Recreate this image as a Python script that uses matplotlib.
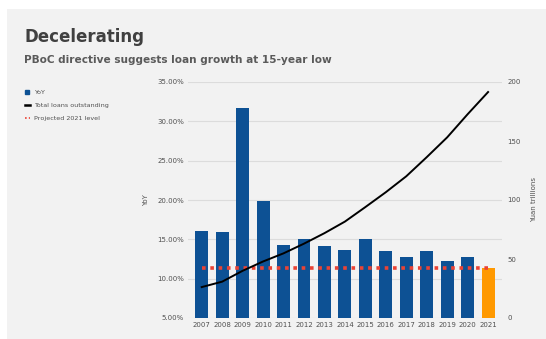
import matplotlib
matplotlib.use("Agg")
import matplotlib.pyplot as plt
from matplotlib.lines import Line2D
from matplotlib.ticker import FuncFormatter

# Data
years = ["2007", "2008", "2009", "2010", "2011", "2012", "2013", "2014",
         "2015", "2016", "2017", "2018", "2019", "2020", "2021"]
yoy = [16.1, 15.9, 31.7, 19.9, 14.3, 15.0, 14.1, 13.6,
       15.0, 13.5, 12.7, 13.5, 12.3, 12.8, 11.35]
total_loans = [26.2, 30.8, 40.0, 47.9, 54.8, 63.0, 71.9, 81.7,
               94.0, 106.6, 120.1, 136.3, 153.1, 172.7, 191.5]
projected_2021 = 11.4

BLUE = "#0d5194"
ORANGE = "#ff9900"
RED = "#ea4335"
BG = "#f2f2f2"
TXT = "#505050"

fig = plt.figure(figsize=(5.46, 3.39), dpi=100)
fig.patch.set_facecolor(BG)
# white strips along the top and left edge
fig.patches.append(plt.Rectangle((0, 1 - 9 / 339), 1, 9 / 339, transform=fig.transFigure,
                                 facecolor="white", edgecolor="none", zorder=-10))
fig.patches.append(plt.Rectangle((0, 0), 7 / 546, 1, transform=fig.transFigure,
                                 facecolor="white", edgecolor="none", zorder=-10))

ax = fig.add_axes([188 / 546, 1 - 318 / 339, (502 - 188) / 546, (318 - 82) / 339])
ax.set_facecolor("none")
x = list(range(len(years)))
colors = [BLUE] * (len(years) - 1) + [ORANGE]
ax.bar(x, yoy, width=0.63, color=colors, zorder=2)
ax.plot(x, [projected_2021] * len(x), color=RED, linewidth=2.6,
        linestyle=(0, (1, 1.3)), dash_capstyle="butt", zorder=4)
ax.set_ylim(5, 35)
ax.set_xlim(-0.67, len(years) - 1 + 0.68)
ax.set_yticks([5, 10, 15, 20, 25, 30, 35])
ax.yaxis.set_major_formatter(FuncFormatter(lambda v, p: f"{v:.2f}%"))
ax.set_xticks(x)
ax.set_xticklabels(years)
ax.grid(axis="y", color="#dcdcdc", linewidth=0.8, zorder=0)
ax.set_axisbelow(True)
for s in ax.spines.values():
    s.set_visible(False)
ax.tick_params(length=0, labelsize=5, colors=TXT, pad=3)
ax.set_ylabel("YoY", fontsize=5, color=TXT, labelpad=6)

ax2 = ax.twinx()
ax2.plot(x, total_loans, color="black", linewidth=1.4, zorder=5)
ax2.set_ylim(0, 200)
ax2.set_yticks([0, 50, 100, 150, 200])
for s in ax2.spines.values():
    s.set_visible(False)
ax2.tick_params(length=0, labelsize=5, colors=TXT, pad=4)
ax2.set_ylabel("Yuan trillions", fontsize=5, color=TXT, labelpad=7.5)

fig.text(24 / 546, 1 - 37 / 339, "Decelerating", fontsize=12, fontweight="bold",
         color="#404040", va="center", ha="left")
fig.text(24 / 546, 1 - 60 / 339, "PBoC directive suggests loan growth at 15-year low",
         fontsize=7.6, fontweight="bold", color="#5a5a5a", va="center", ha="left")

handles = [
    Line2D([], [], marker="s", color=BLUE, linestyle="none", markersize=3.5),
    Line2D([], [], color="black", linewidth=1.8),
    Line2D([], [], color=RED, linewidth=1.2, linestyle=(0, (1, 1.3)),
           dash_capstyle="butt"),
]
fig.legend(handles, ["YoY", "Total loans outstanding", "Projected 2021 level"],
           loc="upper left", bbox_to_anchor=(19 / 546, 1 - 84 / 339), frameon=False,
           fontsize=4.6, handlelength=0.86, handletextpad=0.6, labelspacing=1.15,
           labelcolor=TXT)

fig.savefig("out.png", dpi=100, facecolor=fig.get_facecolor())
